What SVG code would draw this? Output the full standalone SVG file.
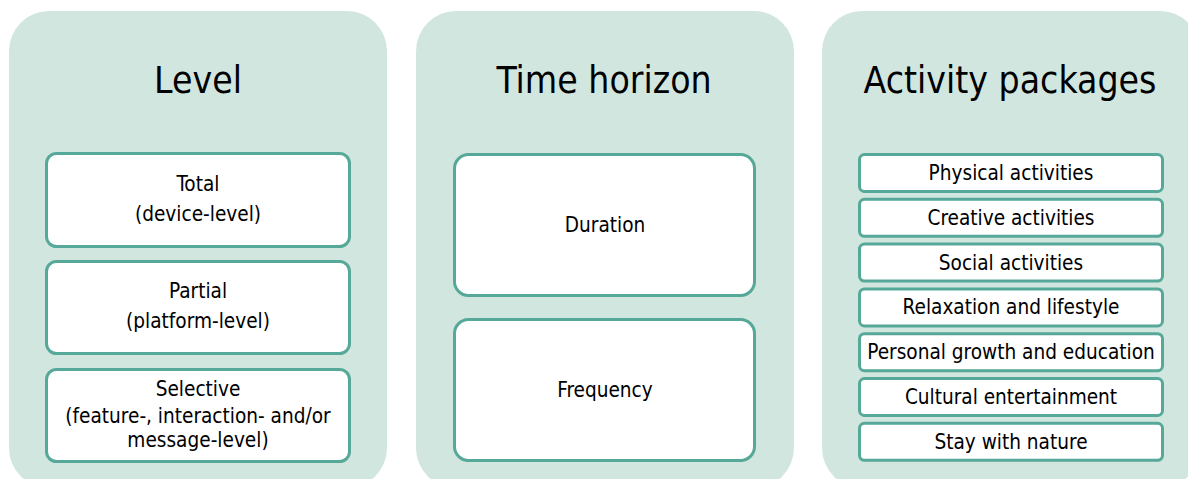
<svg xmlns="http://www.w3.org/2000/svg" width="1188" height="479" viewBox="0 0 1188 479">
<style>
.panel{fill:#d2e6e0;}
.box{fill:#ffffff;stroke:#56a899;stroke-width:3;}
text{font-family:"DejaVu Sans Condensed","DejaVu Sans",sans-serif;font-stretch:condensed;fill:#000000;text-anchor:middle;}
.title{font-size:37px;}
.lbl{font-size:20.6px;}
</style>
<rect width="1188" height="479" fill="#ffffff"/>
<g id="panel-level">
<rect class="panel" x="9" y="11" width="378" height="477" rx="40"/>
<text class="title" x="198" y="93">Level</text>
</g>
<g id="panel-time">
<rect class="panel" x="416" y="11" width="378" height="477" rx="40"/>
<text class="title" x="604" y="93">Time horizon</text>
</g>
<g id="panel-activity">
<rect class="panel" x="822" y="11" width="378" height="477" rx="40"/>
<text class="title" x="1010" y="93">Activity packages</text>
</g>
<g id="node-total">
<rect class="box" x="46.5" y="153.5" width="303" height="93" rx="10"/>
<text class="lbl" x="198" y="191">Total</text>
<text class="lbl" x="198" y="221">(device-level)</text>
</g>
<g id="node-partial">
<rect class="box" x="46.5" y="261.5" width="303" height="92" rx="10"/>
<text class="lbl" x="198" y="298">Partial</text>
<text class="lbl" x="198" y="328">(platform-level)</text>
</g>
<g id="node-selective">
<rect class="box" x="46.5" y="369.5" width="303" height="92" rx="10"/>
<text class="lbl" x="198" y="396">Selective</text>
<text class="lbl" x="198" y="423">(feature-, interaction- and/or</text>
<text class="lbl" x="198" y="447">message-level)</text>
</g>
<g id="node-duration">
<rect class="box" x="454.5" y="154.5" width="300" height="141" rx="14"/>
<text class="lbl" x="605" y="232">Duration</text>
</g>
<g id="node-frequency">
<rect class="box" x="454.5" y="319.5" width="300" height="141" rx="14"/>
<text class="lbl" x="605" y="397">Frequency</text>
</g>
<g id="node-physical">
<rect class="box" x="859.5" y="154.5" width="303" height="37" rx="5"/>
<text class="lbl" x="1011" y="180">Physical activities</text>
</g>
<g id="node-creative">
<rect class="box" x="859.5" y="199.3" width="303" height="37" rx="5"/>
<text class="lbl" x="1011" y="224.8">Creative activities</text>
</g>
<g id="node-social">
<rect class="box" x="859.5" y="244.1" width="303" height="37" rx="5"/>
<text class="lbl" x="1011" y="269.6">Social activities</text>
</g>
<g id="node-relaxation">
<rect class="box" x="859.5" y="288.9" width="303" height="37" rx="5"/>
<text class="lbl" x="1011" y="314.4">Relaxation and lifestyle</text>
</g>
<g id="node-personal">
<rect class="box" x="859.5" y="333.7" width="303" height="37" rx="5"/>
<text class="lbl" x="1011" y="359.2">Personal growth and education</text>
</g>
<g id="node-cultural">
<rect class="box" x="859.5" y="378.5" width="303" height="37" rx="5"/>
<text class="lbl" x="1011" y="404">Cultural entertainment</text>
</g>
<g id="node-nature">
<rect class="box" x="859.5" y="423.3" width="303" height="37" rx="5"/>
<text class="lbl" x="1011" y="448.8">Stay with nature</text>
</g>
<g id="connectors"/>
</svg>
